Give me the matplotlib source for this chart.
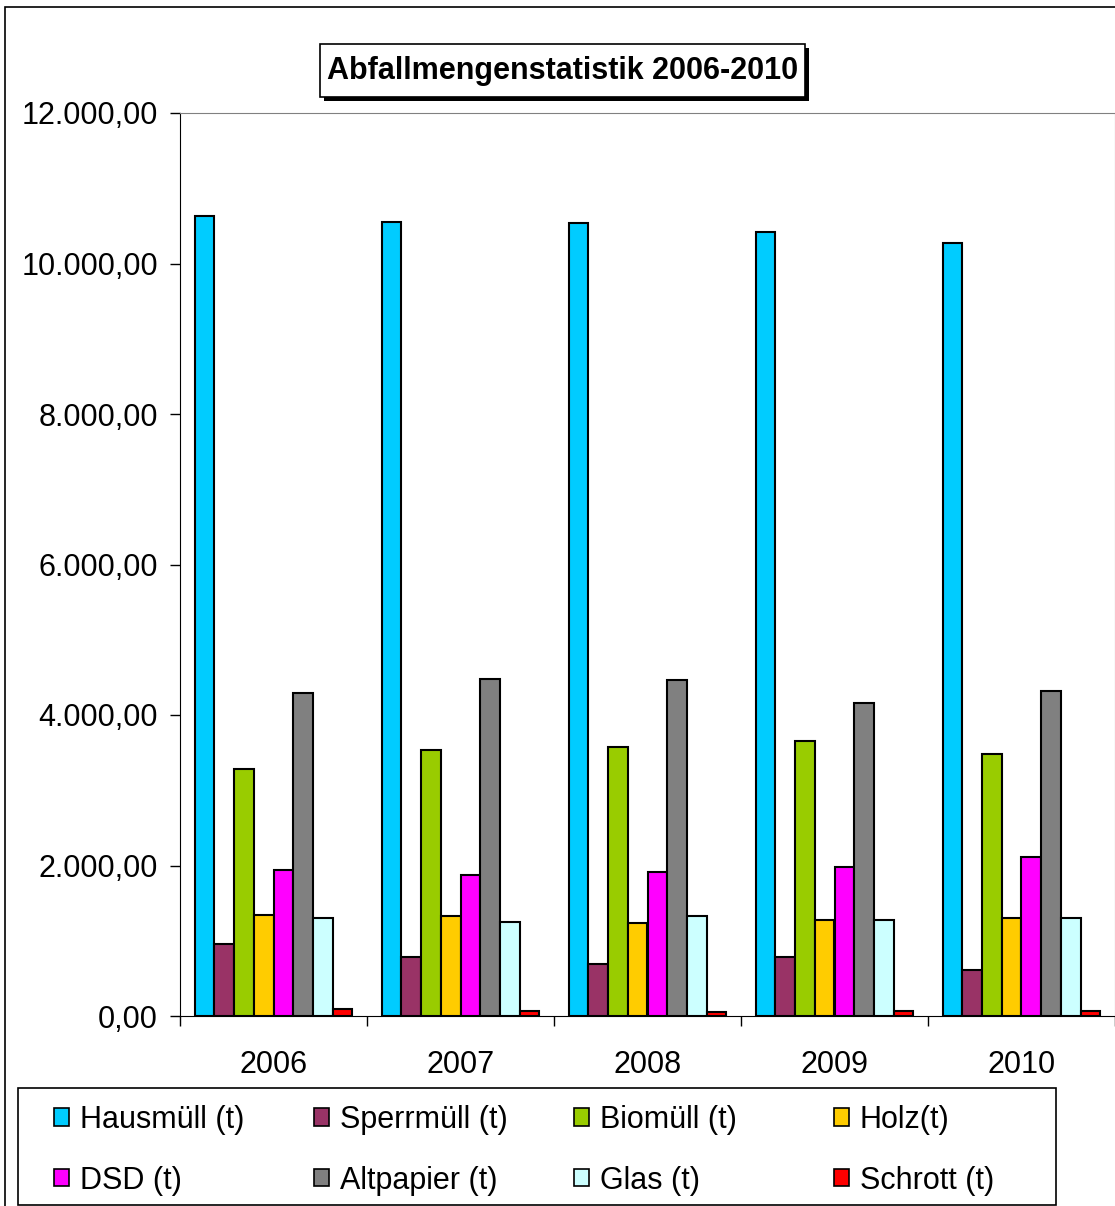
import numpy as np
import matplotlib
matplotlib.use("Agg")
import matplotlib.pyplot as plt
from matplotlib.patches import Patch, Rectangle
from matplotlib.ticker import FuncFormatter, FixedLocator

plt.rcParams['font.family'] = ['Liberation Sans', 'DejaVu Sans']

years = ['2006', '2007', '2008', '2009', '2010']

hausmuell = [10625, 10555, 10535, 10425, 10275]
sperrmuell = [960, 788, 691, 784, 611]
biomuell = [3278, 3530, 3578, 3650, 3486]
holz = [1346, 1329, 1240, 1276, 1298]
dsd = [1944, 1878, 1918, 1984, 2113]
altpapier = [4292, 4478, 4460, 4164, 4315]
glas = [1302, 1253, 1329, 1276, 1298]
schrott = [97, 70, 49, 70, 62]

labels = ['Hausmüll (t)', 'Sperrmüll (t)', 'Biomüll (t)', 'Holz(t)',
          'DSD (t)', 'Altpapier (t)', 'Glas (t)', 'Schrott (t)']
colors = ['#00CCFF', '#993366', '#99CC00', '#FFCC00',
          '#FF00FF', '#808080', '#CCFFFF', '#FF0000']
series = [hausmuell, sperrmuell, biomuell, holz, dsd, altpapier, glas, schrott]

W, H = 1115, 1206
fs = 22
fig = plt.figure(figsize=(W / 100, H / 100), dpi=100)

def px_rect(x0, y0, x1, y1, **kw):
    # rectangle given in pixel coords (top-left origin)
    r = Rectangle((x0 / W, 1 - y1 / H), (x1 - x0) / W, (y1 - y0) / H,
                  transform=fig.transFigure, **kw)
    fig.patches.append(r)
    return r

# outer chart border (only left/top visible)
px_rect(5, 7, 1130, 1220, fill=False, edgecolor='black', linewidth=1.2)

ax = fig.add_axes([180 / W, (H - 1016) / H, (1115 - 180) / W, (1016 - 113) / H])

n = len(series)
bw = 1 / (n + 1.5)
x = np.arange(len(years))
for i, (vals, c) in enumerate(zip(series, colors)):
    off = (i - (n - 1) / 2) * bw
    ax.bar(x + off, vals, width=bw, color=c, edgecolor='black', linewidth=1.5, zorder=3)

ax.set_xlim(-0.5, len(years) - 0.5)
ax.set_ylim(0, 12000)
ax.set_yticks(np.arange(0, 12001, 2000))
ax.yaxis.set_major_formatter(FuncFormatter(
    lambda v, p: f"{v:,.2f}".replace(',', 'X').replace('.', ',').replace('X', '.')))
ax.tick_params(axis='y', labelsize=fs, length=7, width=1, pad=9, direction='out')

ax.set_xticks(x)
ax.set_xticklabels(years)
ax.xaxis.set_minor_locator(FixedLocator(np.arange(-0.5, len(years), 1.0)))
ax.tick_params(axis='x', which='major', length=0, labelsize=fs, pad=24.5)
ax.tick_params(axis='x', which='minor', length=7, width=1, direction='out')

ax.spines['left'].set_color('black')
ax.spines['bottom'].set_color('black')
ax.spines['top'].set_color('#808080')
ax.spines['right'].set_color('#808080')

# title box with shadow
px_rect(324, 48, 809, 101, facecolor='black', edgecolor='none', zorder=1)
px_rect(320, 44, 805, 97, facecolor='white', edgecolor='black', linewidth=1.2, zorder=2)
fig.text(562.5 / W, 1 - 71 / H, 'Abfallmengenstatistik 2006-2010', ha='center', va='center',
         fontsize=fs, fontweight='bold', zorder=3)

# legend frame
px_rect(18, 1088, 1056, 1205, fill=False, edgecolor='black', linewidth=1.2)

for col in range(4):
    hs = [Patch(facecolor=colors[col], edgecolor='black', linewidth=1.2),
          Patch(facecolor=colors[col + 4], edgecolor='black', linewidth=1.2)]
    fig.legend(hs, [labels[col], labels[col + 4]], loc='upper left',
               bbox_to_anchor=((54 + 260 * col) / W, 1 - 1105 / H),
               frameon=False, fontsize=fs, handlelength=0.5, handleheight=0.5,
               handletextpad=0.35, labelspacing=1.0, borderpad=0, borderaxespad=0)

fig.savefig('out.png', dpi=100)
